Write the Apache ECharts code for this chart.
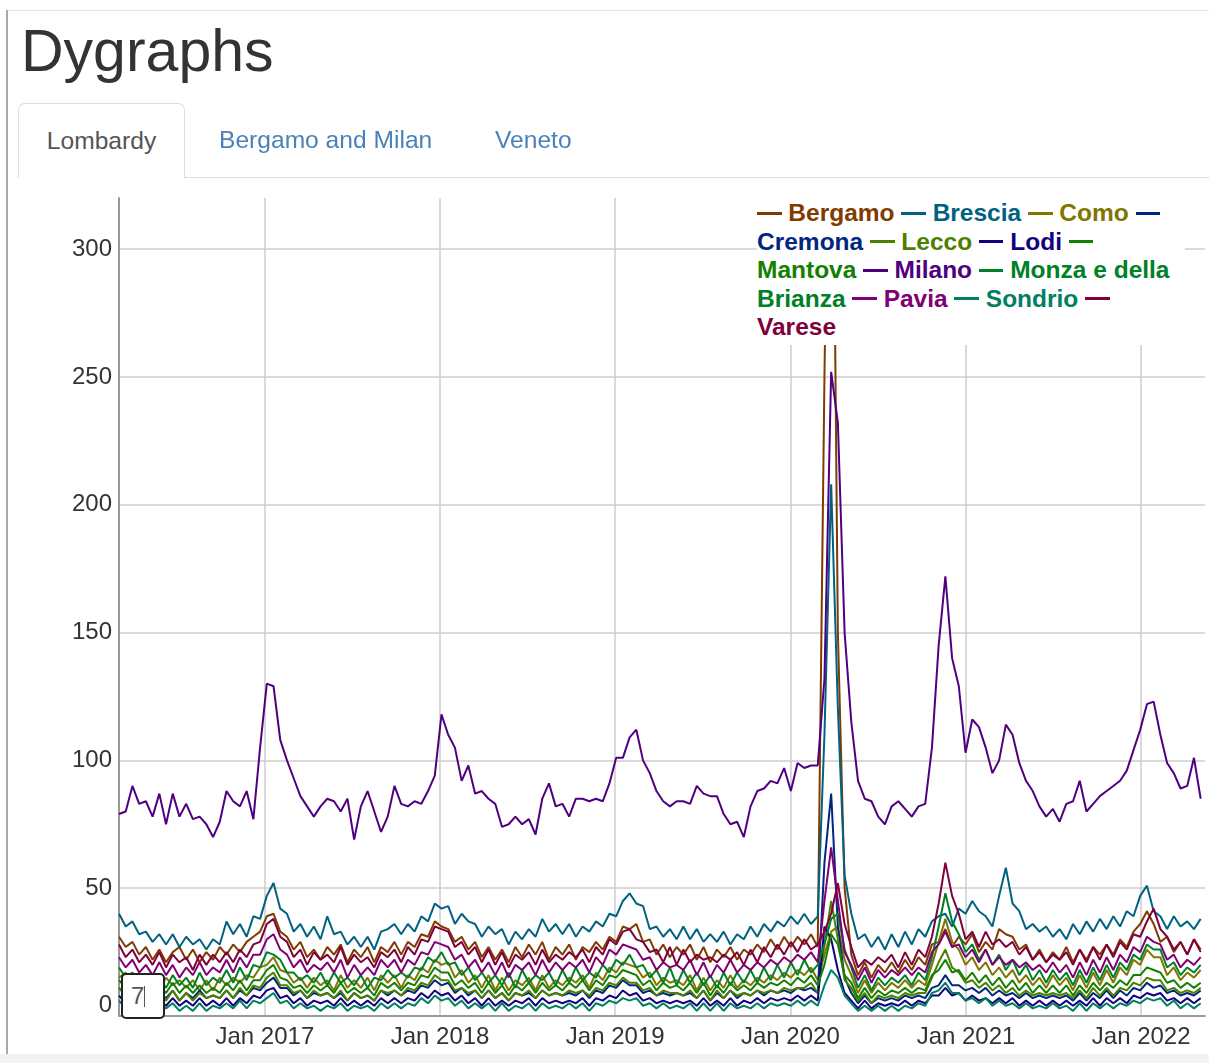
<!DOCTYPE html>
<html>
<head>
<meta charset="utf-8">
<title>Dygraphs</title>
<script src="https://cdn.jsdelivr.net/npm/echarts@6/dist/echarts.min.js"></script>
<style>
  html, body { margin: 0; padding: 0; background: #fff; width: 1209px; height: 1063px; overflow: hidden;
    font-family: "Liberation Sans", Arial, Helvetica, sans-serif; }
  #chart { position: absolute; left: 0; top: 0; width: 1209px; height: 1063px; }
  .frame-left { position: absolute; left: 6px; top: 10px; width: 2px; height: 1044px; background: #a9a9a9; }
  .frame-top { position: absolute; left: 7px; top: 10px; width: 1202px; height: 1px; background: #e3e3e3; }
  .foot { position: absolute; left: 0; top: 1054px; width: 1209px; height: 9px; background: #f2f2f2; }
  h1 { position: absolute; left: 21px; top: 22px; margin: 0; font-size: 59px; line-height: 59px; font-weight: normal; color: #333; }
  .nav-line { position: absolute; left: 185px; top: 177px; width: 1024px; height: 1px; background: #dddddd; }
  .tab-active { position: absolute; left: 18px; top: 103px; width: 165px; height: 74px; border: 1px solid #dddddd;
    border-bottom: none; border-radius: 7px 7px 0 0; background: #fff; text-align: center; line-height: 74px;
    font-size: 24.6px; color: #555; }
  .tab { position: absolute; top: 103px; height: 74px; line-height: 74px; font-size: 24.6px; color: #4a82b8; }
  #legend { position: absolute; left: 757px; top: 196px; width: 428px; padding-top: 3px; padding-bottom: 3px;
    background: #fff; font-size: 24.5px; line-height: 28.5px; font-weight: bold; z-index: 5; }
  #legend .dash { display: inline-block; position: relative; bottom: .5ex; padding-left: 1em; height: 1px; }
  .roll { position: absolute; left: 121px; top: 973px; width: 40px; height: 42px; border: 2.5px solid #222;
    border-radius: 5px; background: #fff; z-index: 5; font-size: 24px; color: #555; line-height: 42px; }
  .roll span { position: absolute; left: 8px; top: 0; }
  .roll i { position: absolute; left: 21px; top: 11px; width: 1px; height: 21px; background: #555; }
</style>
</head>
<body>
<div id="chart"></div>
<div class="frame-top"></div>
<div class="frame-left"></div>
<div class="foot"></div>
<h1>Dygraphs</h1>
<div class="nav-line"></div>
<div class="tab-active">Lombardy</div>
<div class="tab" style="left:219px">Bergamo and Milan</div>
<div class="tab" style="left:495px">Veneto</div>
<div id="legend"></div>
<div class="roll"><span>7</span><i></i></div>
<script>
// fortnightly samples, first one on 2016-03-03 (7 day rolling average as shown)
var startDate = [2016, 2, 3];
var stepDays = 14;

var seriesNames = ['Bergamo', 'Brescia', 'Como', 'Cremona', 'Lecco', 'Lodi', 'Mantova',
  'Milano', 'Monza e della Brianza', 'Pavia', 'Sondrio', 'Varese'];
var seriesColors = ['rgb(128,59,0)', 'rgb(0,98,128)', 'rgb(128,118,0)', 'rgb(0,39,128)',
  'rgb(78,128,0)', 'rgb(20,0,128)', 'rgb(20,128,0)', 'rgb(78,0,128)', 'rgb(0,128,39)',
  'rgb(128,0,118)', 'rgb(0,128,98)', 'rgb(128,0,59)'];

var bergamo = [31,27,29,24,27,22,26,21,25,27,22,26,21,25,22,27,24,28,25,29,31,
  33,39,40,33,31,26,29,23,26,22,27,24,28,21,26,23,27,21,27,25,29,
  24,29,27,32,31,37,35,34,29,31,26,29,23,27,22,26,21,27,23,28,24,
  29,22,27,24,28,22,27,25,29,26,31,29,35,34,36,29,30,24,28,23,27,
  24,28,22,27,21,26,23,27,22,26,24,28,25,30,26,31,27,31,28,32,27,
  250,430,150,50,24,16,21,15,20,17,21,17,22,18,23,20,28,29,34,27,31,
  28,32,25,29,26,34,32,31,26,28,22,26,21,25,22,27,21,26,22,27,24,
  28,24,30,27,33,36,41,36,29,31,25,29,24,30,26];
var brescia = [40,35,37,32,33,29,32,28,32,27,31,28,30,26,30,28,37,32,36,31,39,
  38,47,52,42,40,33,36,31,35,30,39,32,33,28,31,27,31,26,33,34,36,
  32,36,33,39,37,44,42,43,36,40,37,36,31,35,32,34,28,33,30,34,31,
  38,33,36,32,36,31,35,33,37,35,40,39,45,48,44,43,34,35,31,34,30,
  35,30,34,29,32,29,33,28,32,30,35,31,36,33,37,35,39,36,40,36,39,
  110,208,120,55,40,30,32,27,31,26,32,27,33,28,34,31,37,39,40,35,42,
  40,45,41,39,35,47,58,44,41,34,36,33,35,31,34,30,36,32,37,33,38,
  34,39,35,41,39,47,51,41,39,34,39,35,37,34,38];
var como = [15,17,12,15,11,16,10,15,12,14,11,14,10,14,10,15,12,15,13,16,15,
  19,20,23,18,17,13,15,11,15,12,14,10,16,11,14,11,15,10,16,13,16,
  11,16,14,19,17,22,20,21,15,18,13,16,11,16,10,15,10,14,12,15,10,
  16,11,14,12,15,13,16,11,17,14,19,17,21,20,19,15,17,12,15,13,14,
  12,16,10,15,10,14,11,16,11,14,12,15,13,16,14,17,15,18,16,19,14,
  24,33,35,22,16,9,14,9,13,10,13,11,14,11,14,12,20,29,38,29,26,
  20,23,18,21,16,19,15,18,13,16,12,15,11,16,12,15,10,16,11,17,12,
  18,13,19,16,22,20,26,23,23,16,19,14,17,15,18];
var cremona = [11,8,10,7,9,8,9,7,10,6,9,7,10,7,8,7,10,7,10,8,11,
  10,13,15,11,11,8,10,7,9,8,9,7,9,6,9,7,8,6,10,8,10,
  8,10,9,12,11,14,12,13,9,11,8,10,7,10,7,9,6,9,8,9,7,
  10,8,9,8,9,8,10,7,10,9,12,11,14,12,12,9,10,8,9,8,9,
  8,9,7,10,6,9,7,10,7,9,8,10,8,10,9,10,9,11,10,11,9,
  60,87,35,15,9,5,8,5,7,6,7,6,8,7,8,7,11,12,16,12,12,
  10,11,9,11,8,10,8,9,7,9,7,8,7,8,7,8,6,9,6,9,7,
  10,7,10,8,11,10,13,11,12,9,10,8,9,8,10];
var lecco = [11,8,10,7,9,7,10,6,10,6,9,6,9,7,8,7,10,7,11,8,12,
  11,15,17,12,12,9,10,7,10,8,9,7,10,6,9,7,8,6,10,9,10,
  8,11,10,13,12,16,14,14,10,11,9,10,7,10,7,9,6,9,8,10,7,
  10,8,9,8,10,9,10,8,11,10,13,12,15,13,13,10,11,8,10,9,9,
  8,10,7,10,6,10,7,10,8,9,8,10,9,10,9,11,10,11,11,13,9,
  28,45,30,14,11,6,9,5,8,7,8,7,9,8,9,9,15,21,26,19,17,
  13,14,11,13,10,12,9,11,8,10,8,9,8,9,8,9,7,10,7,11,8,
  11,8,11,10,13,12,15,14,14,10,11,9,10,9,11];
var lodi = [8,5,7,4,6,5,6,4,7,4,6,4,7,4,6,4,7,4,7,5,8,
  7,10,11,7,8,5,7,4,6,5,6,4,7,4,6,4,6,4,7,5,7,
  5,7,6,9,7,10,8,9,6,8,5,7,4,7,4,6,4,6,5,7,4,
  7,5,6,5,6,5,7,4,7,6,8,7,10,8,9,6,7,5,6,5,6,
  5,6,4,7,4,6,4,7,4,6,5,7,5,7,6,7,6,8,6,8,6,
  35,30,18,9,6,3,6,3,5,4,5,4,6,4,6,5,8,8,11,8,9,
  6,8,6,7,5,7,5,7,4,6,4,6,4,6,4,6,4,6,4,7,4,
  7,5,7,5,8,7,9,8,9,6,7,5,7,5,7];
var mantova = [14,11,13,9,12,10,12,9,13,9,12,9,12,9,11,9,13,10,14,10,14,
  14,18,20,15,14,11,12,9,12,10,12,9,13,9,11,9,11,8,13,11,13,
  10,13,12,16,15,19,17,17,12,14,11,13,9,13,9,12,8,12,10,13,9,
  13,10,12,10,13,11,14,10,14,12,16,15,18,17,16,12,14,10,13,11,12,
  10,13,9,13,8,12,9,13,10,12,10,13,11,13,12,14,12,15,13,16,12,
  20,32,28,16,13,7,11,7,10,8,10,9,11,9,11,10,16,18,22,17,18,
  14,17,13,16,12,15,11,14,10,13,9,12,9,12,9,12,8,12,9,13,10,
  13,11,14,12,16,16,19,18,17,13,14,11,13,11,13];
var milano = [79,80,90,83,84,78,87,75,87,78,83,77,78,75,70,76,88,84,82,88,77,
  105,130,129,108,100,93,86,82,78,82,85,84,80,85,69,82,88,80,72,78,90,
  83,82,84,83,88,94,118,110,105,92,98,87,88,85,83,74,75,78,75,77,71,
  85,91,82,83,78,85,85,84,85,84,91,101,101,109,112,100,95,88,84,82,84,
  84,83,90,87,86,86,79,75,76,70,82,88,89,92,91,97,88,99,97,98,98,
  132,252,232,150,115,92,85,84,78,75,82,84,81,78,82,83,105,145,172,140,129,
  103,116,113,105,95,100,114,110,99,92,88,82,78,81,76,83,84,92,80,83,86,
  88,90,92,96,104,112,122,123,110,99,95,89,90,101,85];
var monza = [19,15,17,13,16,14,15,11,16,12,15,11,17,12,15,13,18,13,19,14,20,
  19,25,24,22,17,17,14,16,13,17,12,17,13,15,12,16,11,15,14,18,15,
  17,15,19,18,23,21,25,20,21,16,19,14,17,13,16,12,17,11,18,13,16,
  14,17,12,18,13,19,14,17,15,20,17,22,20,24,19,20,15,18,13,19,12,
  18,13,17,12,16,11,17,12,17,13,18,13,19,14,20,15,21,16,22,17,20,
  28,38,40,26,19,11,16,10,15,12,15,13,16,12,17,14,23,35,48,37,32,
  25,28,22,26,20,24,18,22,16,20,14,18,13,18,14,17,12,18,13,19,14,
  20,15,21,18,24,22,28,26,26,19,21,16,19,17,20];
var pavia = [23,19,22,17,20,16,21,16,20,15,19,16,21,16,19,17,22,17,23,19,24,
  24,30,32,26,24,19,22,17,20,18,21,17,22,15,20,16,19,16,22,19,22,
  17,22,20,25,24,29,28,27,22,24,19,22,17,21,16,21,15,20,18,21,16,
  22,17,21,18,21,19,22,17,23,20,26,24,28,27,26,22,23,18,21,19,20,
  18,22,16,21,15,20,17,22,17,20,18,21,19,22,20,23,21,24,22,25,21,
  45,66,45,25,20,14,19,13,18,15,18,16,19,16,19,17,25,28,33,27,28,
  23,26,21,26,20,23,20,22,19,21,18,20,17,21,17,20,15,21,16,22,17,
  23,18,24,21,27,25,31,29,28,22,24,19,22,20,23];
var sondrio = [6,3,5,3,4,2,5,3,5,2,4,2,5,2,4,3,5,3,6,3,6,
  5,7,9,5,6,3,5,3,4,2,4,3,5,2,4,3,4,2,5,3,5,
  3,5,4,7,5,8,6,7,4,6,3,5,3,5,2,5,2,4,3,5,2,
  5,3,4,3,5,3,5,2,5,4,6,5,7,6,7,4,5,3,5,3,4,
  3,5,2,5,2,5,2,5,3,4,3,5,3,5,4,5,4,6,4,6,4,
  12,18,15,8,5,2,4,2,4,2,4,2,4,3,5,4,9,10,13,9,9,
  6,7,5,7,4,6,4,5,3,5,3,4,3,5,3,4,2,5,2,5,3,
  5,3,5,4,6,5,7,6,7,4,6,3,5,3,5];
var varese = [28,23,26,21,24,20,25,19,24,21,23,18,24,20,24,21,25,21,26,23,28,
  29,36,38,31,29,23,26,20,25,22,24,21,27,20,24,21,23,19,25,23,26,
  21,27,24,30,29,35,34,33,27,29,24,27,21,26,20,25,19,24,22,25,20,
  26,21,24,22,25,23,26,21,27,24,30,28,33,34,30,29,25,26,21,27,20,
  26,21,24,22,23,21,24,22,25,20,26,21,27,23,28,24,29,25,30,26,28,
  33,40,52,36,27,19,22,20,23,21,24,19,25,20,26,23,31,44,60,47,40,
  30,33,27,33,28,30,27,29,24,27,22,25,21,24,22,25,20,26,21,27,22,
  28,23,29,26,32,31,37,42,34,31,26,29,24,30,25];

var seriesValues = [bergamo, brescia, como, cremona, lecco, lodi, mantova,
  milano, monza, pavia, sondrio, varese];

var yTicks = [0, 50, 100, 150, 200, 250, 300];
var tickYears = [2017, 2018, 2019, 2020, 2021, 2022];

var fontFamily = '"Liberation Sans", Arial, Helvetica, sans-serif';
var dayMs = 24 * 3600 * 1000;
var t0 = Date.UTC(startDate[0], startDate[1], startDate[2]);
var yearTicks = tickYears.map(function (y) { return Date.UTC(y, 0, 1); });

// legend, dygraphs style
var legendHtml = [];
seriesNames.forEach(function (name, i) {
  legendHtml.push('<span style="color:' + seriesColors[i] + '"><span class="dash" style="border-bottom:3px solid ' +
    seriesColors[i] + '"></span> ' + name + '</span>');
});
document.getElementById('legend').innerHTML = legendHtml.join(' ');

var series = seriesNames.map(function (name, i) {
  return {
    name: name,
    type: 'line',
    showSymbol: false,
    symbol: 'none',
    silent: true,
    lineStyle: { width: 2, color: seriesColors[i] },
    itemStyle: { color: seriesColors[i] },
    data: seriesValues[i].map(function (v, k) { return [t0 + k * stepDays * dayMs, v]; })
  };
});

var myChart = echarts.init(document.getElementById('chart'));
myChart.setOption({
  animation: false,
  grid: { left: 119, right: 4, top: 198, bottom: 47 },
  xAxis: {
    // timestamps on a plain value axis, so the yearly ticks can be placed by hand
    type: 'value',
    min: Date.UTC(2016, 2, 3),
    max: Date.UTC(2022, 4, 14),
    axisLine: { show: true, onZero: false, lineStyle: { color: '#9a9a9a', width: 2 } },
    axisTick: { show: false, customValues: yearTicks },
    axisLabel: {
      customValues: yearTicks,
      hideOverlap: false,
      margin: 9,
      fontSize: 24,
      color: '#333',
      fontFamily: fontFamily,
      formatter: function (v) { return 'Jan ' + new Date(v).getUTCFullYear(); }
    },
    splitLine: { show: true, lineStyle: { color: '#cccccc', width: 1.5 } }
  },
  yAxis: {
    type: 'value',
    min: 0,
    max: 320,
    axisLine: { show: true, lineStyle: { color: '#9a9a9a', width: 2 } },
    axisTick: { show: false, customValues: yTicks },
    axisLabel: {
      customValues: yTicks,
      margin: 7,
      fontSize: 24,
      color: '#333',
      fontFamily: fontFamily,
      formatter: function (v) { return v === 0 ? '{z|0}' : String(v); },
      rich: { z: { fontSize: 24, color: '#333', fontFamily: fontFamily, padding: [0, 0, 22, 0] } }
    },
    splitLine: { show: true, lineStyle: { color: '#cccccc', width: 1.5 } }
  },
  series: series
});
</script>
</body>
</html>
